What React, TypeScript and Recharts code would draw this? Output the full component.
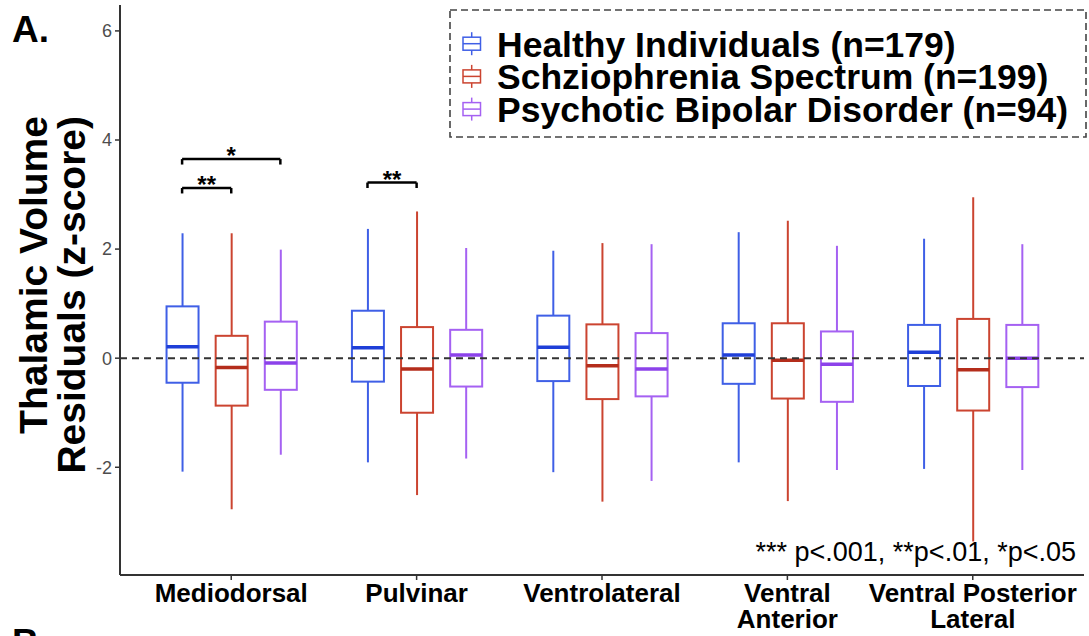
import React from 'react';
import { ComposedChart, Bar, XAxis, YAxis, ReferenceLine, Legend } from 'recharts';

const FONT = "'Liberation Sans', Arial, Helvetica, sans-serif";

const REGIONS = ['Mediodorsal', 'Pulvinar', 'Ventrolateral', 'Ventral\nAnterior', 'Ventral Posterior\nLateral'];
const GROUPS = ['Healthy Individuals (n=179)', 'Schziophrenia Spectrum (n=199)', 'Psychotic Bipolar Disorder (n=94)'];

// [lower whisker, Q1, median, Q3, upper whisker] for each region
const healthy = [
  [-2.08, -0.45, 0.21, 0.95, 2.29],
  [-1.91, -0.43, 0.19, 0.87, 2.37],
  [-2.09, -0.42, 0.2, 0.78, 1.97],
  [-1.91, -0.47, 0.06, 0.64, 2.31],
  [-2.03, -0.51, 0.11, 0.61, 2.19],
];
const schizophrenia = [
  [-2.77, -0.87, -0.17, 0.41, 2.29],
  [-2.51, -1.0, -0.2, 0.57, 2.69],
  [-2.63, -0.75, -0.14, 0.62, 2.11],
  [-2.62, -0.74, -0.04, 0.64, 2.52],
  [-3.36, -0.96, -0.21, 0.72, 2.95],
];
const bipolar = [
  [-1.77, -0.58, -0.09, 0.67, 1.99],
  [-1.84, -0.52, 0.06, 0.52, 2.02],
  [-2.25, -0.7, -0.2, 0.46, 2.09],
  [-2.05, -0.8, -0.11, 0.49, 2.06],
  [-2.05, -0.53, 0.0, 0.61, 2.09],
];

// significance brackets
const sigRegion = [0, 0, 1];
const sigFrom = [0, 0, 0];
const sigTo = [1, 2, 1];
const sigHeight = [3.12, 3.65, 3.22];
const sigText = ['**', '*', '**'];

const Y_TICKS = [-2, 0, 2, 4, 6];
const X_TICKS = [1, 2, 3, 4, 5];

const COLORS = ['#3f5fe6', '#cb4430', '#a561f2'];
const MEDIAN_COLORS = ['#1f3fd8', '#b42d1b', '#8c42ea'];
const GROUP_OFFSET = 0.265;
const TIP = 0.1;

const SERIES = [healthy, schizophrenia, bipolar];

const boxData = REGIONS.flatMap((_, r) =>
  SERIES.map((s, g) => {
    const [lo, q1, med, q3, hi] = s[r];
    return { pos: r + 1 + (g - 1) * GROUP_OFFSET, range: [lo, hi], lo, q1, med, q3, hi, group: g };
  })
);

const BoxShape = (props: any) => {
  const { x, y, width, height, payload } = props;
  if (x == null || y == null) return null;
  const top = Math.min(y, y + height);
  const h = Math.abs(height);
  const { lo, q1, med, q3, hi, group } = payload;
  // linear map inside the bar's own [lo, hi] pixel span
  const py = (v: number) => top + (h * (hi - v)) / (hi - lo);
  const cx = x + width / 2;
  const c = COLORS[group];
  return (
    <g>
      <line x1={cx} x2={cx} y1={py(hi)} y2={py(q3)} stroke={c} strokeWidth={2} />
      <line x1={cx} x2={cx} y1={py(q1)} y2={py(lo)} stroke={c} strokeWidth={2} />
      <rect x={x} y={py(q3)} width={width} height={py(q1) - py(q3)} fill="#fff" stroke={c} strokeWidth={2} />
      <line x1={x} x2={x + width} y1={py(med)} y2={py(med)} stroke={MEDIAN_COLORS[group]} strokeWidth={3.5} />
    </g>
  );
};

const RegionTick = (props: any) => {
  const { x, y, payload } = props;
  const idx = Math.round(payload.value) - 1;
  const lines = (REGIONS[idx] || '').split('\n');
  return (
    <text x={x} y={y} textAnchor="middle" fontFamily={FONT} fontWeight="bold" fontSize={26} fill="#000">
      {lines.map((l, i) => (
        <tspan key={i} x={x} dy={i === 0 ? 22 : 26}>{l}</tspan>
      ))}
    </text>
  );
};

const YTitle = (props: any) => {
  const vb = props.viewBox || { x: 0, y: 5, width: 120, height: 570 };
  const top = vb.y + 111;
  return (
    <g fontFamily={FONT} fontWeight="bold" fill="#000">
      <text x={12} y={42} fontSize={37}>A.</text>
      <text x={12} y={655} fontSize={37}>B.</text>
      <text x={47} y={top} fontSize={39} textAnchor="end" transform={`rotate(-90, 47, ${top})`}>Thalamic Volume</text>
      <text x={85} y={top} fontSize={39} textAnchor="end" transform={`rotate(-90, 85, ${top})`}>Residuals (z-score)</text>
    </g>
  );
};

const PNote = (props: any) => {
  const vb = props.viewBox || { x: 120, y: 575, width: 964, height: 61 };
  return (
    <text x={vb.x + vb.width - 8} y={vb.y - 14} textAnchor="end" fontFamily={FONT} fontSize={27} fill="#000">
      *** p&lt;.001, **p&lt;.01, *p&lt;.05
    </text>
  );
};

const LegendBox = () => (
  <svg width={638} height={129} style={{ display: 'block' }}>
    <rect x={1} y={1} width={636} height={127} fill="#fff" stroke="#444" strokeWidth={1.6} strokeDasharray="7 4" />
    {GROUPS.map((name, g) => {
      const base = 47.7 + g * 32.7;
      const cy = base - 13;
      const c = COLORS[g];
      return (
        <g key={name}>
          <line x1={22.7} x2={22.7} y1={cy - 11.5} y2={cy + 11.5} stroke={c} strokeWidth={1.5} />
          <rect x={14} y={cy - 6.5} width={17.5} height={13} fill="#fff" stroke={c} strokeWidth={1.5} />
          <line x1={14} x2={31.5} y1={cy} y2={cy} stroke={c} strokeWidth={1.5} />
          <text x={48} y={base} fontFamily={FONT} fontWeight="bold" fontSize={35.5} fill="#000">{name}</text>
        </g>
      );
    })}
  </svg>
);

export default function App() {
  return (
    <div style={{ position: 'absolute', left: 0, top: 0, width: 1089, height: 636, background: '#fff' }}>
      <ComposedChart width={1089} height={636} data={boxData} margin={{ top: 5, right: 5, bottom: 0, left: 0 }}>
        <XAxis
          type="number"
          dataKey="pos"
          domain={[0.4, 5.6]}
          ticks={X_TICKS}
          allowDataOverflow
          height={61}
          tickSize={5}
          tickMargin={0}
          axisLine={{ stroke: '#333', strokeWidth: 2 }}
          tickLine={{ stroke: '#333', strokeWidth: 1.5 }}
          tick={<RegionTick />}
          interval={0}
          label={{ content: <PNote /> }}
        />
        <YAxis
          type="number"
          domain={[-3.975, 6.475]}
          ticks={Y_TICKS}
          allowDataOverflow
          width={120}
          tickSize={5}
          tickMargin={3}
          axisLine={{ stroke: '#333', strokeWidth: 2 }}
          tickLine={{ stroke: '#333', strokeWidth: 1.5 }}
          tick={{ fill: '#4d4d4d', fontSize: 18, fontFamily: FONT }}
          label={{ content: <YTitle /> }}
        />
        <Legend
          layout="vertical"
          align="center"
          verticalAlign="middle"
          wrapperStyle={{ left: 449, top: 9, width: 638, height: 129 }}
          content={() => <LegendBox />}
        />
        <Bar dataKey="range" barSize={32} isAnimationActive={false} shape={(p: any) => <BoxShape {...p} />} />
        <ReferenceLine y={0} stroke="#333" strokeWidth={2} strokeDasharray="7 5" />
        {sigRegion.map((r, i) => {
          const x1 = r + 1 + (sigFrom[i] - 1) * GROUP_OFFSET;
          const x2 = r + 1 + (sigTo[i] - 1) * GROUP_OFFSET;
          const yv = sigHeight[i];
          return [
            <ReferenceLine key={`l${i}`} segment={[{ x: x1, y: yv - TIP }, { x: x1, y: yv }]} stroke="#000" strokeWidth={2.5} />,
            <ReferenceLine
              key={`h${i}`}
              segment={[{ x: x1, y: yv }, { x: x2, y: yv }]}
              stroke="#000"
              strokeWidth={2.5}
              label={{
                content: (lp: any) => {
                  const vb = lp.viewBox || {};
                  return (
                    <text x={vb.x + vb.width / 2} y={vb.y + 5} textAnchor="middle" fontFamily={FONT} fontWeight="bold" fontSize={24} fill="#000">
                      {sigText[i]}
                    </text>
                  );
                },
              }}
            />,
            <ReferenceLine key={`r${i}`} segment={[{ x: x2, y: yv - TIP }, { x: x2, y: yv }]} stroke="#000" strokeWidth={2.5} />,
          ];
        })}
      </ComposedChart>
    </div>
  );
}
